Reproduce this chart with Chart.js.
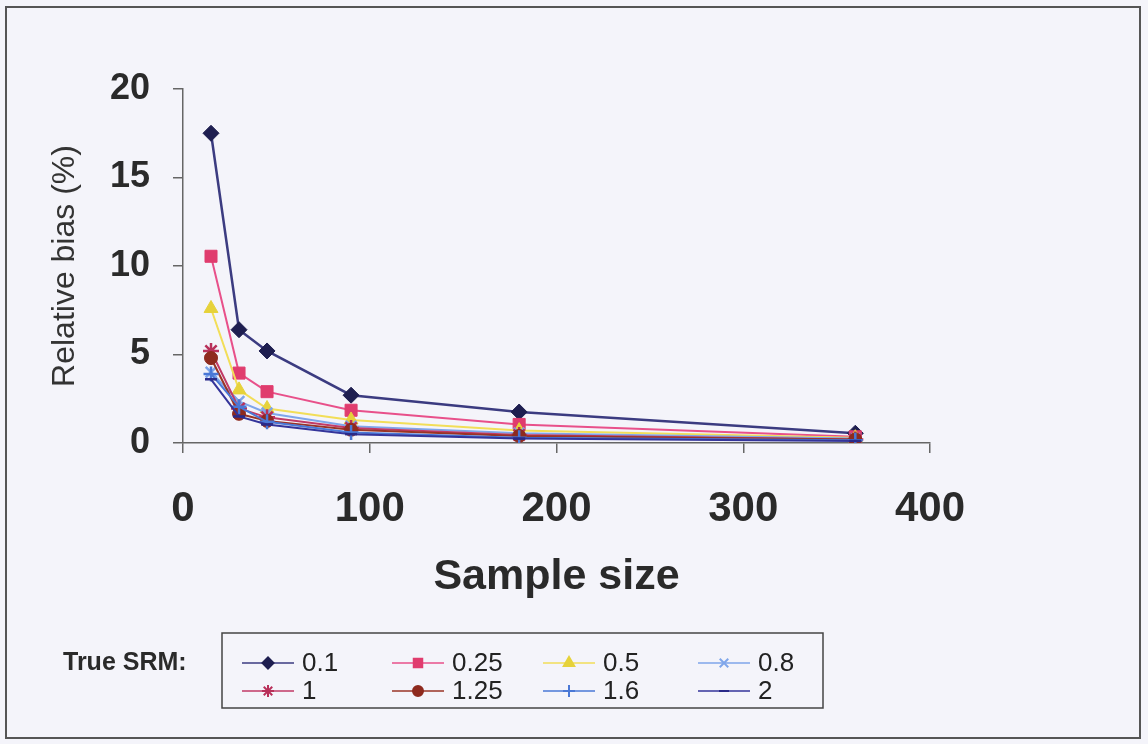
<!DOCTYPE html>
<html>
<head>
<meta charset="utf-8">
<style>
  html, body { margin: 0; padding: 0; background: #F4F4FA; }
  #wrap { width: 1148px; height: 744px; }
  canvas { display: block; }
</style>
<script src="https://cdn.jsdelivr.net/npm/chart.js@4/dist/chart.umd.min.js"></script>
</head>
<body>
<div id="wrap"><canvas id="c" width="1148" height="744"></canvas></div>
<script>
// ---- data ----
const sampleSizes = [15, 30, 45, 90, 180, 360];
const seriesLabels = ['0.1', '0.25', '0.5', '0.8', '1', '1.25', '1.6', '2'];
const srm01  = [17.5, 6.4, 5.2, 2.7, 1.75, 0.55];
const srm025 = [10.55, 3.95, 2.9, 1.85, 1.05, 0.35];
const srm05  = [7.6, 3.0, 1.95, 1.3, 0.7, 0.3];
const srm08  = [4.0, 2.35, 1.7, 0.95, 0.55, 0.25];
const srm1   = [5.2, 1.95, 1.45, 0.85, 0.45, 0.2];
const srm125 = [4.8, 1.65, 1.25, 0.75, 0.4, 0.2];
const srm16  = [3.9, 2.05, 1.2, 0.6, 0.3, 0.15];
const srm2   = [3.6, 1.5, 1.05, 0.5, 0.25, 0.12];
const xTicks = [0, 100, 200, 300, 400];
const yTicks = [0, 5, 10, 15, 20];

const seriesValues = [srm01, srm025, srm05, srm08, srm1, srm125, srm16, srm2];
const styles = [
  { line: '#3B3B80', fill: '#1E1E50', point: 'rectRot', r: 8, lr: 5.5 },
  { line: '#E8508A', fill: '#E03C6E', point: 'rect', r: 8.5, lr: 6 },
  { line: '#F2DE58', fill: '#E6D23A', point: 'triangle', r: 8, lr: 6 },
  { line: '#7FA6EA', fill: '#7FA6EA', point: 'crossRot', r: 7.5, lr: 6 },
  { line: '#C23A66', fill: '#B8305A', point: 'star', r: 8, lr: 6 },
  { line: '#9A3426', fill: '#8E2A1E', point: 'circle', r: 6.5, lr: 5 },
  { line: '#4A78D6', fill: '#4A78D6', point: 'cross', r: 7.5, lr: 6 },
  { line: '#34349A', fill: '#2A2A88', point: 'line', r: 6, lr: 5 }
];

const datasets = seriesLabels.map((lab, i) => ({
  label: lab,
  data: sampleSizes.map((x, j) => ({ x: x, y: seriesValues[i][j] })),
  borderColor: styles[i].line,
  backgroundColor: styles[i].fill,
  pointBorderColor: styles[i].fill,
  pointBackgroundColor: styles[i].fill,
  pointStyle: styles[i].point,
  pointRadius: styles[i].r,
  pointBorderWidth: (['cross', 'crossRot', 'star', 'line'].includes(styles[i].point)) ? 2.5 : 1,
  borderWidth: i === 0 ? 2.5 : 2,
  tension: 0,
  fill: false,
  order: seriesLabels.length - i
}));

const FONT = "'Liberation Sans', Arial, Helvetica, sans-serif";

const bgPlugin = {
  id: 'bg',
  beforeDraw(chart) {
    const ctx = chart.ctx;
    ctx.save();
    ctx.fillStyle = '#F4F4FA';
    ctx.fillRect(0, 0, chart.width, chart.height);
    ctx.strokeStyle = '#555555';
    ctx.lineWidth = 2;
    ctx.strokeRect(6, 7, 1134, 731);
    ctx.restore();
  }
};

function drawMarker(ctx, style, color, r, x, y) {
  const opts = { pointStyle: style, radius: r, borderWidth: 2, rotation: 0 };
  ctx.save();
  ctx.fillStyle = color;
  ctx.strokeStyle = color;
  ctx.lineWidth = 2;
  if (Chart.helpers && Chart.helpers.drawPoint) {
    Chart.helpers.drawPoint(ctx, opts, x, y);
  } else {
    ctx.beginPath(); ctx.arc(x, y, r, 0, Math.PI * 2); ctx.fill();
  }
  ctx.restore();
}

const legendPlugin = {
  id: 'customLegend',
  afterDraw(chart) {
    const ctx = chart.ctx;
    ctx.save();
    ctx.fillStyle = '#2a2a2a';
    ctx.font = 'bold 25px ' + FONT;
    ctx.textBaseline = 'middle';
    ctx.textAlign = 'left';
    ctx.fillText('True SRM:', 63, 663);
    ctx.strokeStyle = '#444444';
    ctx.lineWidth = 1.5;
    ctx.strokeRect(222, 633, 601, 75);
    const colX = [242, 392, 543, 698];
    const rowY = [663, 691];
    ctx.font = '26px ' + FONT;
    chart.data.datasets.forEach((ds, i) => {
      const x0 = colX[i % 4];
      const y0 = rowY[Math.floor(i / 4)];
      ctx.strokeStyle = ds.borderColor;
      ctx.lineWidth = 1.5;
      ctx.beginPath();
      ctx.moveTo(x0, y0);
      ctx.lineTo(x0 + 52, y0);
      ctx.stroke();
      drawMarker(ctx, ds.pointStyle, ds.pointBackgroundColor, styles[i].lr, x0 + 26, y0);
      ctx.fillStyle = '#222222';
      ctx.textAlign = 'left';
      ctx.textBaseline = 'middle';
      ctx.fillText(ds.label, x0 + 60, y0 + 1);
    });
    ctx.restore();
  }
};

new Chart(document.getElementById('c'), {
  type: 'line',
  data: { datasets: datasets },
  options: {
    responsive: false,
    animation: false,
    devicePixelRatio: 1,
    layout: { padding: { left: 0, top: 89, right: 218, bottom: 131 } },
    plugins: {
      legend: { display: false },
      tooltip: { enabled: false },
      title: { display: false }
    },
    scales: {
      x: {
        type: 'linear',
        min: 0, max: 400,
        afterBuildTicks(scale) { scale.ticks = xTicks.map(v => ({ value: v })); },
        afterFit(scale) { scale.height = 170; },
        ticks: {
          color: '#2a2a2a',
          font: { family: FONT, size: 42, weight: 'bold' },
          padding: 31,
          maxRotation: 0
        },
        grid: { display: true, drawOnChartArea: false, drawTicks: true, tickLength: 10, color: '#666666', lineWidth: 1.5 },
        border: { display: true, color: '#666666', width: 1.5 },
        title: {
          display: true,
          text: 'Sample size',
          color: '#2a2a2a',
          font: { family: FONT, size: 43, weight: 'bold' },
          padding: { top: 0, bottom: 10 }
        }
      },
      y: {
        type: 'linear',
        min: 0, max: 20,
        afterBuildTicks(scale) { scale.ticks = yTicks.map(v => ({ value: v })); },
        afterFit(scale) { scale.width = 183; },
        ticks: {
          color: '#2a2a2a',
          font: { family: FONT, size: 36, weight: 'bold' },
          padding: 23
        },
        grid: { display: true, drawOnChartArea: false, drawTicks: true, tickLength: 10, color: '#666666', lineWidth: 1.5 },
        border: { display: true, color: '#666666', width: 1.5 },
        title: {
          display: true,
          text: 'Relative bias (%)',
          color: '#333333',
          font: { family: FONT, size: 32, weight: 'normal' },
          padding: { top: 46, bottom: 0 }
        }
      }
    }
  },
  plugins: [bgPlugin, legendPlugin]
});
</script>
</body>
</html>
